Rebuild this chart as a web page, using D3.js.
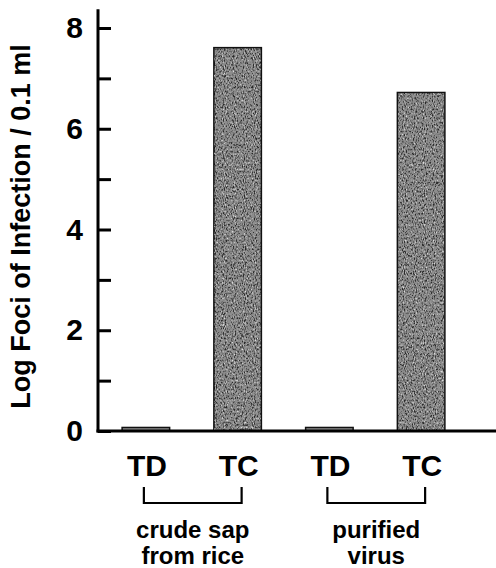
<!DOCTYPE html>
<meta charset="utf-8">
<style>

body {
	margin: 0;
	background: #fff;
}

.canvas text {
	font-family: "Liberation Sans", Arial, sans-serif;
	font-weight: bold;
	fill: #000;
}

.axis .tick line {
	stroke: #000;
	stroke-width: 3;
}

.axis .tick text {
	font-size: 30px;
}

.bar rect {
	fill: #8c8c8c;
	stroke: #111;
	stroke-width: 1.5;
}

.bracket {
	fill: none;
	stroke: #000;
	stroke-width: 2.2;
}

</style>
<svg class="canvas"></svg>
<script src="https://cdn.jsdelivr.net/npm/d3@7"></script>
<script>

// values
var categories = ["TD1", "TC1", "TD2", "TC2"];
var catLabels = ["TD", "TC", "TD", "TC"];
var values = [0.07, 7.61, 0.07, 6.72];
var groups = [
	["crude sap", "from rice"],
	["purified", "virus"]
];
var yTicks = [0, 1, 2, 3, 4, 5, 6, 7, 8];
var yLabel = "Log Foci of Infection / 0.1 ml";

var width = 496,
	height = 568;

var AXIS_X = 98;
var TICK_LEN = 13;

var canvas = d3.select(".canvas")
	.attr("width", width)
	.attr("height", height);

var y = d3.scaleLinear()
	.domain([0, 8])
	.range([431, 28]);

var x = d3.scaleBand()
	.domain(categories)
	.range([100, 467])
	.paddingInner(0.482)
	.paddingOuter(0.241);

// speckle texture for the bars
var defs = canvas.append("defs");
var filt = defs.append("filter")
	.attr("id", "speck")
	.attr("x", 0).attr("y", 0)
	.attr("width", 1).attr("height", 1);
filt.append("feTurbulence")
	.attr("type", "fractalNoise")
	.attr("baseFrequency", "0.9 0.45")
	.attr("numOctaves", 2)
	.attr("seed", 7)
	.attr("result", "noise");
filt.append("feColorMatrix")
	.attr("in", "noise")
	.attr("type", "matrix")
	.attr("values", "0 0 0 0 0  0 0 0 0 0  0 0 0 0 0  4 0 0 0 -2.0")
	.attr("result", "dark");
filt.append("feColorMatrix")
	.attr("in", "noise")
	.attr("type", "matrix")
	.attr("values", "0 0 0 0 1  0 0 0 0 1  0 0 0 0 1  -4 0 0 0 1.6")
	.attr("result", "light");
filt.append("feMerge").selectAll("feMergeNode")
	.data(["dark", "light"])
	.enter().append("feMergeNode")
	.attr("in", function(d) { return d; });

// bars
var bars = canvas.selectAll("g.bar").data(values)
	.enter().append("g")
	.attr("class", "bar");

bars.append("rect")
	.attr("x", function(d, i) { return x(categories[i]); })
	.attr("y", function(d) { return y(d); })
	.attr("width", x.bandwidth())
	.attr("height", function(d) { return y(0) - y(d); });

bars.filter(function(d) { return d > 1; })
	.append("rect")
	.attr("x", function(d) { return x(categories[values.indexOf(d)]) + 1; })
	.attr("y", function(d) { return y(d) + 1; })
	.attr("width", x.bandwidth() - 2)
	.attr("height", function(d) { return y(0) - y(d) - 2; })
	.style("stroke", "none")
	.style("opacity", 0.7)
	.attr("filter", "url(#speck)");

// y axis, ticks pointing inward
var yAxis = d3.axisLeft(y)
	.tickValues(yTicks)
	.tickSize(-TICK_LEN)
	.tickSizeOuter(0)
	.tickPadding(15)
	.tickFormat(function(d) { return d % 2 === 0 ? d : ""; });

var gy = canvas.append("g")
	.attr("class", "axis")
	.attr("transform", "translate(" + AXIS_X + ",0)")
	.call(yAxis);
gy.select(".domain").remove();

gy.append("line")
	.attr("y1", y(0) + 1.5)
	.attr("y2", y(8.37))
	.attr("stroke", "#000")
	.attr("stroke-width", 3);

// baseline
canvas.append("line")
	.attr("x1", AXIS_X - 1.5)
	.attr("x2", width)
	.attr("y1", y(0))
	.attr("y2", y(0))
	.attr("stroke", "#000")
	.attr("stroke-width", 3);

// category labels
canvas.selectAll("text.cat").data(categories)
	.enter().append("text")
	.attr("class", "cat")
	.attr("x", function(d) { return x(d) + x.bandwidth() / 2 + 1; })
	.attr("y", 476)
	.attr("text-anchor", "middle")
	.style("font-size", "30px")
	.text(function(d, i) { return catLabels[i]; });

// brackets + group labels
var gg = canvas.selectAll("g.group").data(groups)
	.enter().append("g")
	.attr("class", "group");

function bx0(i) { return x(categories[i * 2]) + x.bandwidth() / 2 - 2; }
function bx1(i) { return x(categories[i * 2 + 1]) + x.bandwidth() / 2 + 4; }

gg.append("path")
	.attr("class", "bracket")
	.attr("d", function(d, i) {
		return "M" + bx0(i) + ",487V503H" + bx1(i) + "V487";
	});

gg.selectAll("text").data(function(d, i) {
		return d.map(function(t) { return { t: t, i: i }; });
	})
	.enter().append("text")
	.attr("x", function(d) { return (bx0(d.i) + bx1(d.i)) / 2; })
	.attr("y", function(d, j) { return 538 + j * 26; })
	.attr("text-anchor", "middle")
	.style("font-size", "24px")
	.text(function(d) { return d.t; });

// y axis title
canvas.append("text")
	.attr("transform", "translate(30," + ((y(0) + y(8)) / 2 - 3) + ") rotate(-90)")
	.attr("text-anchor", "middle")
	.style("font-size", "27px")
	.text(yLabel);

</script>
